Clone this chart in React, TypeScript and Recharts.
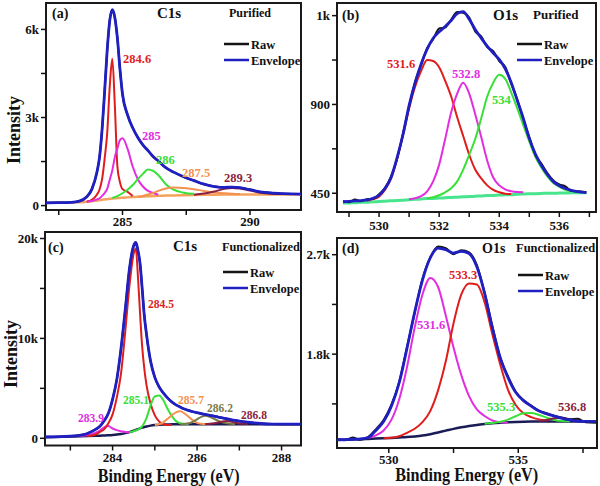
import React from "react";
import { LineChart, Line, XAxis, YAxis, ReferenceArea } from "recharts";

const FONT = "'Liberation Serif', 'Times New Roman', serif";

// ---- (a) C1s purified ----
const aX = [282, 282.5, 283, 283.3, 283.6, 283.8, 284, 284.1, 284.2, 284.3, 284.4, 284.5, 284.6, 284.7, 284.8, 284.9, 285, 285.2, 285.4, 285.6, 285.8, 286, 286.2, 286.4, 286.7, 287, 287.4, 287.8, 288.2, 288.6, 289, 289.3, 289.6, 290, 290.4, 290.8, 291.3, 292];
const aEnv = [95, 100, 110, 150, 300, 560, 1150, 1650, 2600, 3900, 5300, 6300, 6670, 6400, 5700, 4650, 3800, 3080, 2650, 2320, 2070, 1870, 1670, 1520, 1290, 1140, 980, 850, 730, 650, 620, 630, 610, 540, 470, 430, 405, 392];
const aRaw = [95, 102, 112, 148, 305, 565, 1140, 1660, 2590, 3910, 5290, 6310, 6660, 6410, 5690, 4660, 3790, 3090, 2640, 2330, 2060, 1880, 1660, 1530, 1280, 1150, 975, 855, 725, 655, 615, 635, 605, 545, 465, 435, 400, 392];
const aBg = [null, null, 105, 115, 130, 150, 175, 185, 200, 210, 220, 230, 240, 248, 255, 262, 270, 280, 290, 300, 310, 318, 325, 332, 340, 348, 356, 363, 368, 372, 375, 377, 378, 380, 380, 380, 380, 380];
const aRed = [[283.6, 130], [283.8, 200], [284, 380], [284.1, 550], [284.2, 900], [284.3, 1600], [284.4, 2470], [284.5, 4060], [284.6, 5000], [284.7, 3400], [284.8, 1330], [284.9, 800], [285, 560], [285.2, 470], [285.4, 330]];
const aMag = [[283.6, 140], [283.8, 160], [284, 210], [284.1, 250], [284.2, 330], [284.3, 430], [284.4, 570], [284.5, 880], [284.6, 1200], [284.7, 1650], [284.8, 1950], [284.9, 2230], [285, 2290], [285.2, 1930], [285.4, 1330], [285.6, 900], [285.8, 650], [286, 500], [286.2, 430], [286.4, 370]];
const aGrn = [[284.6, 260], [284.8, 320], [285, 420], [285.2, 540], [285.4, 700], [285.6, 900], [285.8, 1080], [286, 1230], [286.2, 1180], [286.4, 1040], [286.7, 730], [287, 540], [287.4, 440], [287.8, 400]];
const aOrg = [[285.6, 300], [285.8, 330], [286, 380], [286.2, 430], [286.4, 500], [286.7, 580], [287, 615], [287.4, 600], [287.8, 560], [288.2, 500], [288.6, 450], [289, 420], [289.3, 405], [289.6, 395]];
const aMrn = [[287.8, 370], [288.2, 410], [288.6, 480], [289, 570], [289.3, 600], [289.6, 580], [290, 510], [290.4, 440], [290.8, 405], [291.3, 392]];
const aXTicks = [282.5, 285, 287.5, 290];
const aXLabels = ["", "285", "", "290"];
const aYTicks = [0, 1500, 3000, 4500, 6000];
const aYLabels = ["0", "", "3k", "", "6k"];

// ---- (b) O1s purified ----
const bX = [528.8, 529, 529.2, 529.4, 529.6, 529.8, 530, 530.2, 530.4, 530.6, 530.8, 531, 531.2, 531.4, 531.6, 531.8, 532, 532.2, 532.4, 532.6, 532.8, 533, 533.2, 533.4, 533.6, 533.8, 534, 534.2, 534.4, 534.6, 534.8, 535, 535.2, 535.4, 535.6, 535.8, 536, 536.2, 536.4, 536.6, 536.9];
const bEnv = [407, 409, 411, 413, 416, 425, 440, 475, 530, 630, 750, 895, 1010, 1105, 1180, 1235, 1268, 1295, 1325, 1360, 1370, 1332, 1280, 1236, 1195, 1160, 1128, 1080, 1010, 920, 830, 728, 650, 592, 545, 509, 488, 474, 465, 458, 453];
const bRaw = [410, 405, 418, 410, 420, 422, 445, 478, 535, 625, 755, 890, 1015, 1100, 1185, 1230, 1285, 1290, 1330, 1368, 1365, 1340, 1270, 1245, 1190, 1170, 1120, 1090, 1005, 925, 825, 735, 645, 600, 552, 515, 495, 485, 462, 460, 455];
const bBg = [400, 401, 402, 404, 405, 407, 408, 410, 412, 413, 415, 417, 419, 421, 423, 424, 426, 427, 429, 430, 432, 433, 435, 436, 438, 439, 441, 442, 443, 445, 446, 447, 448, 449, 450, 450, 451, 451, 452, 452, 452];
const bRed = [[529.6, 412], [529.8, 420], [530, 433], [530.2, 468], [530.4, 525], [530.6, 625], [530.8, 745], [531, 880], [531.2, 990], [531.4, 1070], [531.6, 1125], [531.8, 1120], [532, 1088], [532.2, 1020], [532.4, 940], [532.6, 835], [532.8, 740], [533, 645], [533.2, 570], [533.4, 525], [533.6, 490], [533.8, 467], [534, 455], [534.2, 448], [534.4, 446]];
const bMag = [[531, 420], [531.2, 425], [531.4, 435], [531.6, 460], [531.8, 510], [532, 595], [532.2, 725], [532.4, 860], [532.6, 955], [532.8, 1010], [533, 955], [533.2, 850], [533.4, 735], [533.6, 615], [533.8, 530], [534, 490], [534.2, 470], [534.4, 460], [534.6, 456], [534.8, 455]];
const bGrn = [[531.6, 425], [531.8, 430], [532, 440], [532.2, 455], [532.4, 475], [532.6, 510], [532.8, 570], [533, 645], [533.2, 725], [533.4, 830], [533.6, 940], [533.8, 1010], [534, 1050], [534.2, 1030], [534.4, 960], [534.6, 880], [534.8, 795], [535, 712], [535.2, 635], [535.4, 580], [535.6, 535], [535.8, 502], [536, 482], [536.2, 468], [536.4, 460]];
const bXTicks = [529, 530, 531, 532, 533, 534, 535, 536, 537];
const bXLabels = ["", "530", "", "532", "", "534", "", "536", ""];
const bYTicks = [450, 675, 900, 1125, 1350];
const bYLabels = ["450", "", "900", "", "1k"];

// ---- (c) C1s functionalized ----
const cX = [282.4, 282.8, 283.1, 283.4, 283.6, 283.7, 283.8, 283.9, 284, 284.1, 284.2, 284.3, 284.4, 284.5, 284.55, 284.6, 284.65, 284.7, 284.75, 284.8, 284.9, 285, 285.1, 285.2, 285.3, 285.4, 285.5, 285.6, 285.7, 285.8, 285.9, 286, 286.1, 286.2, 286.3, 286.4, 286.5, 286.6, 286.7, 286.8, 286.9, 287, 287.2, 287.5, 287.8, 288.1, 288.46];
const cEnv = [130, 170, 240, 480, 900, 1200, 1750, 2500, 3900, 5900, 9000, 12900, 17000, 19300, 19600, 18800, 17500, 15000, 12300, 10500, 7700, 6100, 5150, 4550, 4050, 3650, 3350, 3130, 2930, 2790, 2660, 2560, 2470, 2390, 2300, 2220, 2130, 2040, 1960, 1870, 1790, 1720, 1610, 1480, 1420, 1410, 1410];
const cRaw = [135, 165, 245, 470, 910, 1190, 1760, 2490, 3920, 5880, 9020, 12880, 17020, 19280, 19620, 18780, 17520, 14980, 12320, 10480, 7720, 6090, 5160, 4540, 4060, 3640, 3360, 3120, 2940, 2780, 2670, 2550, 2480, 2380, 2310, 2210, 2140, 2030, 1970, 1860, 1800, 1710, 1620, 1470, 1425, 1405, 1405];
const cBg = [130, 160, 190, 220, 250, 265, 285, 310, 340, 380, 440, 520, 620, 760, 840, 920, 1000, 1070, 1130, 1190, 1270, 1320, 1350, 1370, 1385, 1395, 1405, 1410, 1410, 1410, 1410, 1410, 1410, 1410, 1410, 1410, 1410, 1410, 1410, 1410, 1410, 1410, 1410, 1410, 1410, 1410, 1410];
const cRed = [[283.4, 200], [283.6, 380], [283.7, 650], [283.8, 900], [283.9, 1500], [284, 2400], [284.1, 4100], [284.2, 6500], [284.3, 10700], [284.4, 15300], [284.5, 18500], [284.55, 19000], [284.6, 16200], [284.65, 12500], [284.7, 9200], [284.75, 7000], [284.8, 5400], [284.9, 3450], [285, 2300], [285.1, 1700], [285.2, 1400], [285.3, 1340], [285.4, 1360]];
const cMag = [[283.1, 220], [283.4, 300], [283.6, 560], [283.7, 780], [283.8, 1100], [283.9, 1220], [284, 980], [284.1, 820], [284.2, 700], [284.3, 640], [284.4, 600]];
const cGrn = [[284.4, 600], [284.5, 720], [284.6, 880], [284.7, 1200], [284.8, 2000], [284.9, 3300], [285, 4200], [285.1, 4280], [285.2, 3830], [285.3, 2950], [285.4, 2250], [285.5, 1720], [285.6, 1520], [285.7, 1450], [285.8, 1420]];
const cOrg = [[285, 1330], [285.1, 1400], [285.2, 1600], [285.3, 1950], [285.4, 2300], [285.5, 2600], [285.6, 2700], [285.7, 2500], [285.8, 2150], [285.9, 1800], [286, 1550], [286.1, 1460], [286.2, 1430]];
const cOlv = [[285.6, 1415], [285.7, 1440], [285.8, 1500], [285.9, 1650], [286, 1900], [286.1, 2150], [286.2, 2250], [286.3, 2150], [286.4, 1950], [286.5, 1750], [286.6, 1600], [286.7, 1500], [286.8, 1450], [286.9, 1425]];
const cMrn = [[286.2, 1420], [286.3, 1450], [286.4, 1500], [286.5, 1580], [286.6, 1680], [286.7, 1720], [286.8, 1680], [286.9, 1580], [287, 1490], [287.2, 1430]];
const cXTicks = [283, 284, 285, 286, 287, 288];
const cXLabels = ["", "284", "", "286", "", "288"];
const cYTicks = [0, 5000, 10000, 15000, 20000];
const cYLabels = ["0", "", "10k", "", "20k"];

// ---- (d) O1s functionalized ----
const dX = [528, 528.3, 528.6, 528.9, 529.2, 529.5, 529.8, 530.1, 530.4, 530.7, 531, 531.3, 531.6, 531.9, 532.2, 532.5, 532.8, 533.1, 533.4, 533.7, 534, 534.3, 534.6, 534.9, 535.2, 535.5, 535.8, 536.1, 536.4, 536.7, 537, 537.3, 537.6, 538];
const dEnv = [1025, 1027, 1030, 1033, 1045, 1110, 1190, 1330, 1540, 1850, 2180, 2470, 2670, 2760, 2745, 2715, 2730, 2710, 2590, 2350, 2040, 1770, 1590, 1455, 1380, 1330, 1285, 1260, 1240, 1220, 1205, 1195, 1192, 1190];
const dRaw = [1030, 1020, 1045, 1025, 1050, 1120, 1205, 1340, 1545, 1860, 2175, 2480, 2675, 2775, 2760, 2705, 2740, 2720, 2605, 2355, 2050, 1775, 1600, 1460, 1385, 1335, 1290, 1265, 1240, 1225, 1210, 1215, 1185, 1180];
const dBg = [1025, 1026, 1028, 1030, 1033, 1036, 1039, 1042, 1046, 1050, 1056, 1064, 1076, 1092, 1108, 1124, 1138, 1150, 1160, 1168, 1175, 1180, 1184, 1187, 1189, 1190, 1190, 1190, 1190, 1190, 1190, 1190, 1190, 1190];
const dMag = [[529.2, 1040], [529.5, 1065], [529.8, 1110], [530.1, 1205], [530.4, 1390], [530.7, 1680], [531, 2040], [531.3, 2340], [531.6, 2490], [531.9, 2410], [532.2, 2150], [532.5, 1860], [532.8, 1610], [533.1, 1420], [533.4, 1300], [533.7, 1240], [534, 1200], [534.3, 1185], [534.6, 1182]];
const dRed = [[529.8, 1040], [530.1, 1044], [530.4, 1058], [530.7, 1088], [531, 1125], [531.3, 1185], [531.6, 1285], [531.9, 1470], [532.2, 1735], [532.5, 2080], [532.8, 2340], [533.1, 2440], [533.4, 2430], [533.7, 2270], [534, 1980], [534.3, 1710], [534.6, 1480], [534.9, 1340], [535.2, 1265], [535.5, 1230], [535.8, 1210], [536.1, 1200]];
const dGrn = [[533.7, 1170], [534, 1177], [534.3, 1188], [534.6, 1208], [534.9, 1238], [535.2, 1265], [535.5, 1268], [535.8, 1250], [536.1, 1225], [536.4, 1205], [536.7, 1195], [537, 1192]];
const dMrn = [[535.8, 1195], [536.1, 1205], [536.4, 1220], [536.7, 1225], [537, 1210], [537.3, 1195]];
const dXTicks = [530, 532.5, 535, 537.5];
const dXLabels = ["530", "", "535", ""];
const dYTicks = [1350, 1800, 2250, 2700];
const dYLabels = ["", "1.8k", "", "2.7k"];

const C = {
  red: "#e01d1d",
  mag: "#e22de0",
  grn: "#38e038",
  org: "#f39150",
  mrn: "#8a1f40",
  olv: "#7a7a48",
  navy: "#1b1b55",
  mint: "#48e48e",
  bgOrg: "#f4a35c",
  blue: "#1f1fc2",
  black: "#141414",
};

const rows = (xs: number[], env: number[], raw: number[], bg: (number | null)[]) =>
  xs.map((e, i) => ({ e, env: env[i], raw: raw[i], bg: bg[i] }));
const pts = (p: number[][]) => p.map(([e, v]) => ({ e, v }));

const tickStyle = { fill: "#111", fontSize: 13, fontWeight: 700, fontFamily: FONT };

type Comp = { data: number[][]; color: string };

function Panel(props: {
  box: [number, number, number, number];
  xDomain: [number, number];
  yDomain: [number, number];
  xTicks: number[];
  xLabels: string[];
  yTicks: number[];
  yLabels: string[];
  data: any[];
  comps: Comp[];
  bgColor: string;
  bgWidth: number;
  tickMargin?: number;
}) {
  const YW = 44, MT = 3, MR = 2, XH = 30;
  const [L, T, R, B] = props.box;
  const width = YW + (R - L) + MR;
  const height = MT + (B - T) + XH;
  return (
    <div style={{ position: "absolute", left: L - YW, top: T - MT }}>
      <LineChart width={width} height={height} data={props.data} margin={{ top: MT, right: MR, left: 0, bottom: 0 }}>
        <XAxis
          dataKey="e"
          type="number"
          domain={props.xDomain}
          allowDataOverflow
          ticks={props.xTicks}
          interval={0}
          tickFormatter={(v) => props.xLabels[props.xTicks.indexOf(v)] ?? ""}
          axisLine={false}
          tickLine={{ stroke: "#111", strokeWidth: 1.5 }}
          tickSize={5}
          tickMargin={props.tickMargin ?? 2}
          height={XH}
          tick={tickStyle}
        />
        <YAxis
          type="number"
          domain={props.yDomain}
          allowDataOverflow
          ticks={props.yTicks}
          interval={0}
          tickFormatter={(v) => props.yLabels[props.yTicks.indexOf(v)] ?? ""}
          axisLine={false}
          tickLine={{ stroke: "#111", strokeWidth: 1.5 }}
          tickSize={5}
          width={YW}
          tick={tickStyle}
        />
        <Line dataKey="bg" type="monotone" stroke={props.bgColor} strokeWidth={props.bgWidth} dot={false} activeDot={false} isAnimationActive={false} />
        {props.comps.map((c, i) => (
          <Line key={i} data={pts(c.data)} dataKey="v" type="monotone" stroke={c.color} strokeWidth={2} dot={false} activeDot={false} isAnimationActive={false} />
        ))}
        <Line dataKey="raw" type="monotone" stroke={C.black} strokeWidth={2} dot={false} activeDot={false} isAnimationActive={false} />
        <Line dataKey="env" type="monotone" stroke={C.blue} strokeWidth={2.8} dot={false} activeDot={false} isAnimationActive={false} />
        <ReferenceArea
          x1={props.xDomain[0]}
          x2={props.xDomain[1]}
          y1={props.yDomain[0]}
          y2={props.yDomain[1]}
          fill="none"
          stroke="#1a1a1a"
          strokeWidth={2}
          ifOverflow="visible"
        />
      </LineChart>
    </div>
  );
}

function Legend2({ x, y }: { x: number; y: number }) {
  return (
    <g>
      <line x1={x} x2={x + 25} y1={y} y2={y} stroke={C.black} strokeWidth={2.5} />
      <text x={x + 27} y={y + 4.5} fontSize={12.5}>Raw</text>
      <line x1={x} x2={x + 25} y1={y + 16} y2={y + 16} stroke={C.blue} strokeWidth={2.5} />
      <text x={x + 27} y={y + 20.5} fontSize={12.5}>Envelope</text>
    </g>
  );
}

export default function App() {
  return (
    <div style={{ position: "absolute", left: 0, top: 0, width: 600, height: 486, background: "#fff", overflow: "hidden" }}>
      <Panel
        box={[46, 3, 301, 210]}
        xDomain={[282, 292]}
        yDomain={[-150, 6900]}
        xTicks={aXTicks}
        xLabels={aXLabels}
        yTicks={aYTicks}
        yLabels={aYLabels}
        data={rows(aX, aEnv, aRaw, aBg)}
        comps={[
          { data: aRed, color: C.red },
          { data: aMag, color: C.mag },
          { data: aGrn, color: C.grn },
          { data: aOrg, color: C.org },
          { data: aMrn, color: C.mrn },
        ]}
        bgColor={C.bgOrg}
        bgWidth={2.5}
      />
      <Panel
        box={[337, 3, 596, 212]}
        xDomain={[528.6, 537.22]}
        yDomain={[355, 1414]}
        xTicks={bXTicks}
        xLabels={bXLabels}
        yTicks={bYTicks}
        yLabels={bYLabels}
        data={rows(bX, bEnv, bRaw, bBg)}
        comps={[
          { data: bRed, color: C.red },
          { data: bMag, color: C.mag },
          { data: bGrn, color: C.grn },
        ]}
        bgColor={C.mint}
        bgWidth={3}
        tickMargin={4}
      />
      <Panel
        box={[45, 232, 301, 445.5]}
        xDomain={[282.4, 288.46]}
        yDomain={[-720, 20650]}
        xTicks={cXTicks}
        xLabels={cXLabels}
        yTicks={cYTicks}
        yLabels={cYLabels}
        data={rows(cX, cEnv, cRaw, cBg)}
        comps={[
          { data: cMag, color: C.mag },
          { data: cRed, color: C.red },
          { data: cGrn, color: C.grn },
          { data: cOrg, color: C.org },
          { data: cOlv, color: C.olv },
          { data: cMrn, color: C.mrn },
        ]}
        bgColor={C.navy}
        bgWidth={2.5}
      />
      <Panel
        box={[337, 238, 597, 448]}
        xDomain={[528, 538.04]}
        yDomain={[951, 2851]}
        xTicks={dXTicks}
        xLabels={dXLabels}
        yTicks={dYTicks}
        yLabels={dYLabels}
        data={rows(dX, dEnv, dRaw, dBg)}
        comps={[
          { data: dMag, color: C.mag },
          { data: dRed, color: C.red },
          { data: dGrn, color: C.grn },
          { data: dMrn, color: C.mrn },
        ]}
        bgColor={C.navy}
        bgWidth={2.5}
      />
      <svg
        width={600}
        height={486}
        style={{ position: "absolute", left: 0, top: 0, pointerEvents: "none" }}
        fontFamily={FONT}
        fontWeight={700}
        fill="#111"
      >
        {/* (a) */}
        <text x={52} y={18} fontSize={14}>(a)</text>
        <text x={157} y={18} fontSize={15}>C1s</text>
        <text x={229} y={17} fontSize={12}>Purified</text>
        <Legend2 x={224} y={44} />
        <text x={123} y={63} fontSize={12.5} fill={C.red}>284.6</text>
        <text x={142} y={140} fontSize={12.5} fill={C.mag}>285</text>
        <text x={156} y={164} fontSize={12.5} fill={C.grn}>286</text>
        <text x={182} y={177} fontSize={12.5} fill={C.org}>287.5</text>
        <text x={224} y={182} fontSize={12.5} fill={C.mrn}>289.3</text>
        <text transform="translate(20,130) rotate(-90)" textAnchor="middle" fontSize={18}>Intensity</text>

        {/* (b) */}
        <text x={342} y={20} fontSize={14}>(b)</text>
        <text x={493} y={20} fontSize={15}>O1s</text>
        <text x={533} y={19} fontSize={13}>Purified</text>
        <Legend2 x={517} y={44} />
        <text x={387} y={68} fontSize={12.5} fill={C.red}>531.6</text>
        <text x={452} y={78} fontSize={12.5} fill={C.mag}>532.8</text>
        <text x={492} y={104} fontSize={12.5} fill={C.grn}>534</text>

        {/* (c) */}
        <text x={48} y={252} fontSize={14}>(c)</text>
        <text x={173} y={251} fontSize={15}>C1s</text>
        <text x={222} y={251} fontSize={12.3}>Functionalized</text>
        <Legend2 x={223} y={272} />
        <text x={148} y={308} fontSize={11.5} fill={C.red}>284.5</text>
        <text x={123} y={404} fontSize={11.5} fill={C.grn}>285.1</text>
        <text x={178} y={404} fontSize={11.5} fill={C.org}>285.7</text>
        <text x={207} y={411.5} fontSize={11.5} fill={C.olv}>286.2</text>
        <text x={241} y={419} fontSize={11.5} fill={C.mrn}>286.8</text>
        <text x={78} y={421.5} fontSize={11.5} fill={C.mag}>283.9</text>
        <text transform="translate(17,354) rotate(-90)" textAnchor="middle" fontSize={18}>Intensity</text>
        <text x={168.7} y={482} textAnchor="middle" fontSize={18} textLength={142} lengthAdjust="spacingAndGlyphs">Binding Energy (eV)</text>

        {/* (d) */}
        <text x={342} y={253} fontSize={14}>(d)</text>
        <text x={482} y={253} fontSize={14}>O1s</text>
        <text x={516} y={252} fontSize={12.5}>Functionalized</text>
        <Legend2 x={518} y={275} />
        <text x={449} y={278.5} fontSize={12.5} fill={C.red}>533.3</text>
        <text x={417} y={329} fontSize={12.5} fill={C.mag}>531.6</text>
        <text x={487} y={411} fontSize={12.5} fill={C.grn}>535.3</text>
        <text x={558} y={411} fontSize={12.5} fill={C.mrn}>536.8</text>
        <text x={466.7} y={481} textAnchor="middle" fontSize={18} textLength={143} lengthAdjust="spacingAndGlyphs">Binding Energy (eV)</text>
      </svg>
    </div>
  );
}
